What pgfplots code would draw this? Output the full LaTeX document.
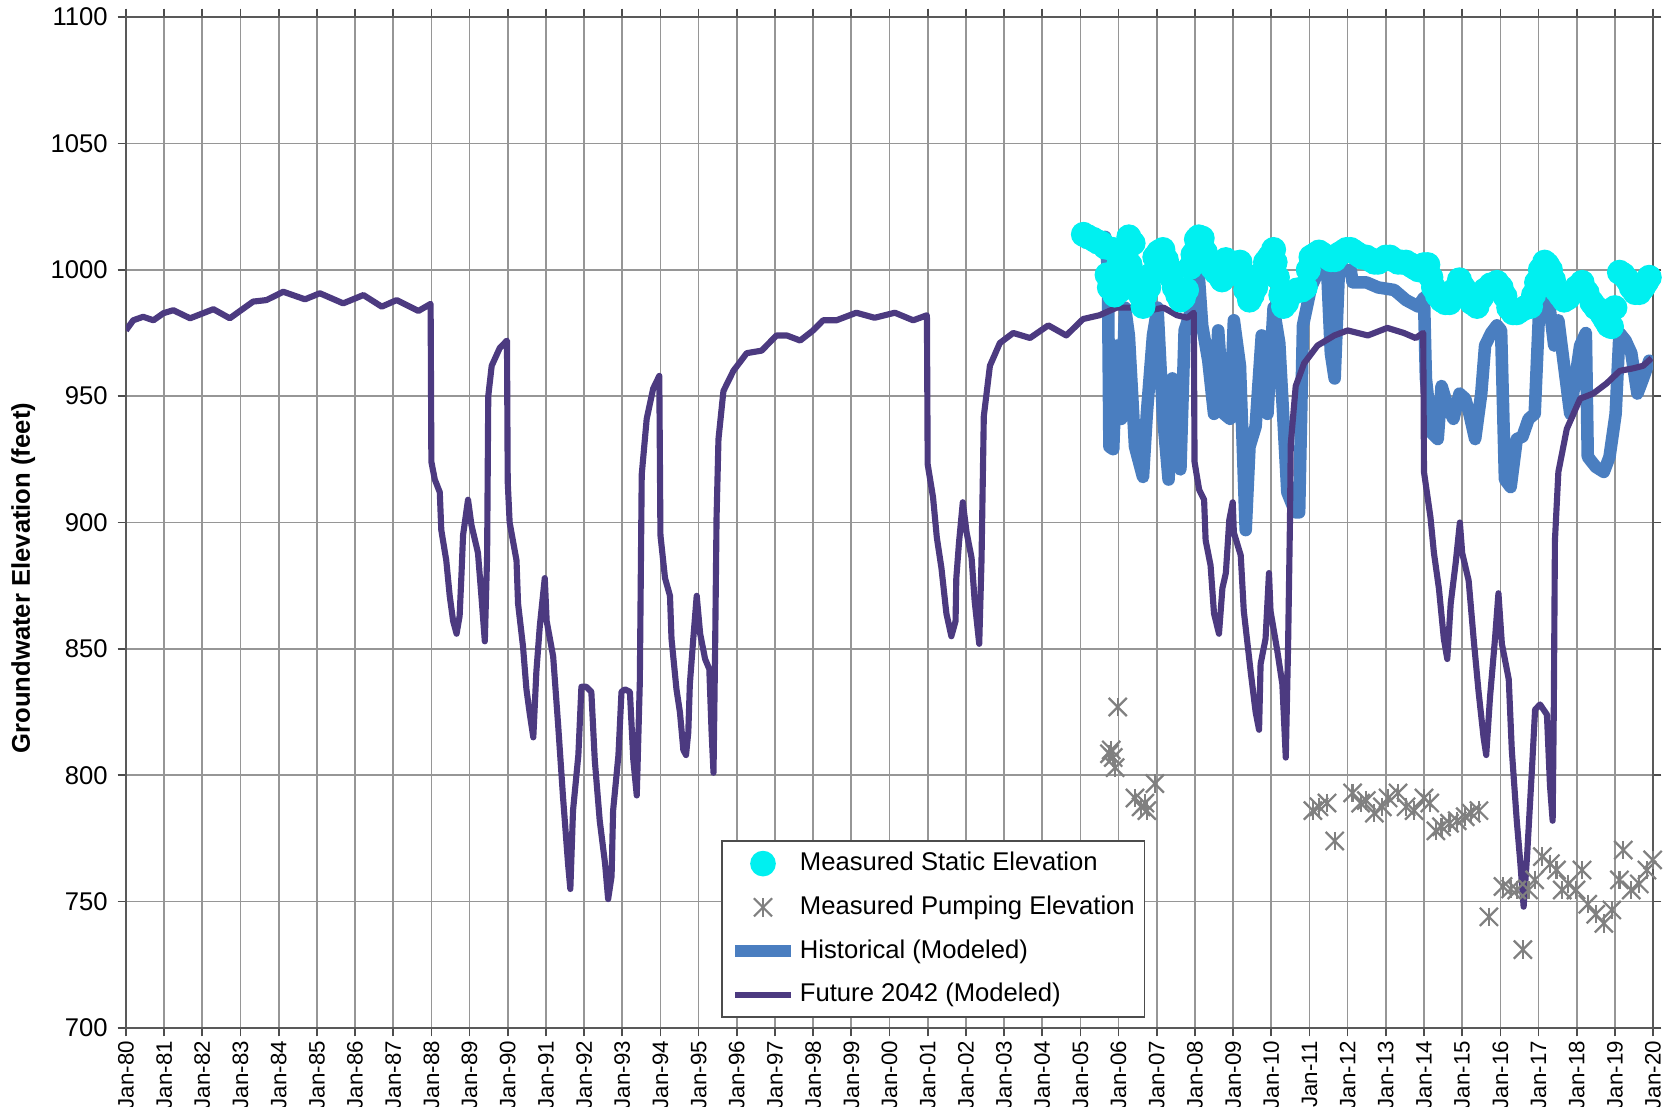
\documentclass[border=0pt]{standalone}
\usepackage{pgfplots}
\usepackage{pgfplotstable}
\pgfplotsset{compat=1.18}
\usepackage{fontspec}
\setmainfont{Liberation Sans}
\definecolor{futcol}{RGB}{76,58,128}
\definecolor{histcol}{RGB}{74,126,192}
\definecolor{statcol}{RGB}{0,240,240}
\definecolor{pumpcol}{RGB}{128,128,128}
\definecolor{gridcol}{RGB}{150,150,150}

\pgfplotsset{
  lineleg/.style={legend image code/.code={\draw[##1] (0pt,0pt) -- (20pt,0pt);}},
  dotleg/.style={legend image code/.code={\draw[##1, only marks] plot coordinates {(10pt,0pt)};}},
  starleg/.style={legend image code/.code={\draw[##1, only marks, mark=x, mark size=4.6pt] plot coordinates {(10pt,0pt)};\draw[##1, only marks, mark=|, mark size=3.3pt] plot coordinates {(10pt,0pt)};}},
}

\pgfplotstableread{
x y
2005.98 827
2005.76 808.5
2005.86 807
2005.91 803
2005.81 810
2006.43 791
2006.59 787.5
2006.74 786
2006.95 796.7
2006.69 789
2011.09 786
2011.25 787.5
2011.46 789
2011.66 774
2012.13 793
2012.34 789
2012.49 790
2012.70 785
2012.91 787.5
2013.06 791
2013.32 793
2013.53 787.5
2013.74 786
2014.00 791
2014.15 789
2014.31 778
2014.46 779.6
2014.67 781
2014.87 782
2015.08 783.6
2015.24 785
2015.44 786
2015.70 744
2016.07 756
2016.27 755
2016.43 754.6
2016.59 731
2016.74 754.6
2016.90 758.6
2017.10 767.8
2017.31 765
2017.47 762.5
2017.62 754.6
2017.78 757
2017.98 754.6
2018.14 762.5
2018.29 749
2018.50 745
2018.71 741.4
2018.92 746.7
2019.12 758.6
2019.22 770.4
2019.43 754.6
2019.64 757
2019.84 762.5
2019.99 766.5
}\pumpdata

\begin{document}
\begin{tikzpicture}
\begin{axis}[
  at={(0,0)}, anchor=south west,
  scale only axis, width=548pt, height=362.8pt,
  xmin=1980, xmax=2020, ymin=700, ymax=1100,
  xtick={1980,1981,...,2020},
  xticklabels={Jan-80,Jan-81,Jan-82,Jan-83,Jan-84,Jan-85,Jan-86,Jan-87,Jan-88,Jan-89,Jan-90,Jan-91,Jan-92,Jan-93,Jan-94,Jan-95,Jan-96,Jan-97,Jan-98,Jan-99,Jan-00,Jan-01,Jan-02,Jan-03,Jan-04,Jan-05,Jan-06,Jan-07,Jan-08,Jan-09,Jan-10,Jan-11,Jan-12,Jan-13,Jan-14,Jan-15,Jan-16,Jan-17,Jan-18,Jan-19,Jan-20},
  ytick={700,750,...,1100},
  grid=major, major grid style={gridcol, line width=0.6pt},
  tick align=outside, major tick length=3pt,
  tick style={black!70, line width=0.6pt},
  axis line style={black!65, line width=0.9pt},
  /pgf/number format/assume math mode=true,
  /pgf/number format/1000 sep={},
  x tick label style={rotate=90, anchor=east, inner sep=1.5pt, font=\fontsize{8}{10}\selectfont},
  y tick label style={font=\fontsize{9.2}{11}\selectfont},
  ylabel={Groundwater Elevation (feet)},
  ylabel style={font=\bfseries\fontsize{9.2}{11}\selectfont, at={(axis description cs:-0.0672,0.445)}, anchor=center},
  legend cell align=left,
  legend style={at={(0.3897,0.0099)}, anchor=south west, draw=black!70, line width=0.6pt,
    font=\fontsize{9.2}{11}\selectfont, inner sep=2.5pt, row sep=4.7pt,
    nodes={inner sep=1pt, text height=7pt, text depth=2pt}},
]
\addlegendimage{statcol, mark=*, mark size=4.3pt, mark options={draw=statcol, fill=statcol}, dotleg}
\addlegendentry{Measured Static Elevation}
\addlegendimage{pumpcol, line width=0.8pt, starleg}
\addlegendentry{Measured Pumping Elevation}
\addlegendimage{histcol, line width=4.5pt, lineleg}
\addlegendentry{Historical (Modeled)}
\addlegendimage{futcol, line width=2.2pt, lineleg}
\addlegendentry{Future 2042 (Modeled)}

% Historical (Modeled)
\addplot[histcol, line width=4.5pt, line join=round, line cap=round, forget plot] coordinates {
(2005.65,1013) (2005.72,1000) (2005.76,930) (2005.86,929) (2005.96,970) (2006.07,941)
(2006.17,985) (2006.27,974) (2006.43,930) (2006.64,918) (2006.74,943) (2006.90,974)
(2007.02,985) (2007.16,943) (2007.31,917) (2007.41,957) (2007.52,928) (2007.62,921)
(2007.73,976) (2007.88,983) (2008.05,1009) (2008.19,978) (2008.35,964) (2008.50,943)
(2008.61,976) (2008.76,943) (2008.92,941) (2009.02,980) (2009.18,962) (2009.33,897)
(2009.43,930) (2009.59,938) (2009.75,974) (2009.90,943) (2010.06,985) (2010.21,971)
(2010.42,912) (2010.63,904) (2010.73,904) (2010.83,978) (2011.04,993) (2011.25,1000)
(2011.46,1001) (2011.56,967) (2011.66,957) (2011.77,999) (2012.08,1000) (2012.13,995)
(2012.49,995) (2012.80,993) (2013.22,992) (2013.53,988) (2013.84,985.5) (2014.00,989)
(2014.05,957) (2014.20,935.5) (2014.36,933) (2014.46,954) (2014.62,946) (2014.77,941)
(2014.93,951) (2015.08,949) (2015.19,943) (2015.34,933) (2015.50,951) (2015.60,970)
(2015.76,975) (2015.91,978) (2016.02,976) (2016.12,917) (2016.27,914) (2016.43,933)
(2016.58,934) (2016.74,941) (2016.90,943) (2017.05,996) (2017.26,989) (2017.41,970)
(2017.52,980) (2017.67,962) (2017.83,943) (2018.09,970) (2018.24,975) (2018.29,926)
(2018.50,922) (2018.71,920) (2018.86,926) (2019.02,943) (2019.12,975) (2019.28,972)
(2019.43,967) (2019.59,951) (2019.74,957) (2019.90,964)
};

% Future 2042 (Modeled)
\addplot[futcol, line width=2.2pt, line join=round, forget plot] coordinates {
(1980.00,976) (1980.19,980) (1980.45,981.4) (1980.72,980) (1980.98,982.8) (1981.24,984)
(1981.68,980.8) (1982.29,984.4) (1982.72,980.8) (1983.33,987.4) (1983.68,988) (1984.12,991.3)
(1984.69,988.3) (1985.08,990.7) (1985.69,986.7) (1986.22,990) (1986.70,985.4) (1987.09,988)
(1987.66,983.7) (1987.98,986.5) (1988.00,924) (1988.09,917) (1988.22,912) (1988.26,897)
(1988.39,885) (1988.48,871) (1988.57,861) (1988.66,856) (1988.74,863) (1988.79,880)
(1988.83,895) (1988.96,909) (1989.05,899) (1989.22,888) (1989.31,871) (1989.40,853)
(1989.46,887) (1989.49,950) (1989.58,962) (1989.79,969) (1989.98,972) (1990.00,916)
(1990.05,900) (1990.23,885) (1990.27,868) (1990.40,851) (1990.49,834) (1990.58,824)
(1990.67,815) (1990.75,841) (1990.84,859) (1990.97,878) (1991.02,861) (1991.19,847)
(1991.32,820) (1991.45,791) (1991.58,765) (1991.64,755) (1991.71,786) (1991.85,808)
(1991.93,835) (1992.06,835) (1992.19,833) (1992.28,806) (1992.41,782) (1992.55,765)
(1992.63,751) (1992.72,760) (1992.76,786) (1992.90,808) (1992.98,833) (1993.07,834)
(1993.20,833) (1993.29,806) (1993.38,792) (1993.46,837) (1993.51,919) (1993.64,941)
(1993.81,953) (1993.97,958) (1994.00,895) (1994.12,878) (1994.25,871) (1994.29,854)
(1994.42,834) (1994.51,825) (1994.60,810) (1994.67,808) (1994.73,817) (1994.77,836)
(1994.86,854) (1994.95,871) (1995.04,856) (1995.17,846) (1995.28,842) (1995.34,817)
(1995.39,801) (1995.43,847) (1995.47,902) (1995.52,933) (1995.65,952) (1995.91,960)
(1996.26,967) (1996.65,968) (1997.04,974) (1997.31,974) (1997.66,972) (1998.00,976)
(1998.26,980) (1998.61,980) (1999.13,983) (1999.61,981) (2000.14,983) (2000.62,980)
(2000.98,982) (2001.00,923) (2001.14,910) (2001.24,894) (2001.36,882) (2001.49,864)
(2001.62,855) (2001.73,861) (2001.75,878) (2001.82,892) (2001.92,908) (2002.02,896)
(2002.15,886) (2002.23,869) (2002.35,852) (2002.41,885) (2002.47,942) (2002.63,962)
(2002.89,971) (2003.24,975) (2003.68,973) (2004.16,978) (2004.63,974) (2005.07,980.5)
(2005.50,982) (2005.95,985) (2006.39,985) (2006.83,984) (2007.18,985) (2007.53,982)
(2007.80,981) (2007.97,983) (2007.99,924) (2008.11,913) (2008.24,909) (2008.28,893)
(2008.41,883) (2008.50,864) (2008.63,856) (2008.72,874) (2008.81,880) (2008.90,901)
(2008.99,908) (2009.02,896) (2009.20,887) (2009.28,865) (2009.46,841) (2009.59,825)
(2009.68,818) (2009.72,844) (2009.85,854) (2009.94,880) (2009.98,865) (2010.16,849)
(2010.29,836) (2010.38,807) (2010.44,851) (2010.49,901) (2010.51,931) (2010.64,954)
(2010.86,963) (2011.21,970) (2011.65,974) (2012.00,976) (2012.53,974) (2013.04,977)
(2013.47,975) (2013.78,973) (2013.98,975) (2014.00,920) (2014.17,902) (2014.26,888)
(2014.39,874) (2014.52,854) (2014.61,846) (2014.70,868) (2014.83,884) (2014.94,900)
(2015.00,888) (2015.17,877) (2015.30,854) (2015.43,833) (2015.56,815) (2015.63,808)
(2015.73,831) (2015.86,854) (2015.95,872) (2016.04,852) (2016.22,838) (2016.30,810)
(2016.43,782) (2016.52,766) (2016.61,748) (2016.70,768) (2016.83,803) (2016.91,826)
(2017.04,828) (2017.22,824) (2017.30,796) (2017.37,782) (2017.40,826) (2017.43,893)
(2017.52,920) (2017.74,937) (2018.09,949) (2018.43,951) (2018.78,955) (2019.13,960)
(2019.48,961) (2019.74,962) (2019.96,965)
};

% Measured Pumping Elevation
\addplot[only marks, mark=x, mark size=4.6pt, pumpcol, line width=0.8pt, forget plot] table[x=x,y=y] {\pumpdata};
\addplot[only marks, mark=|, mark size=3.3pt, pumpcol, line width=0.8pt, forget plot] table[x=x,y=y] {\pumpdata};

% Measured Static Elevation
\addplot[only marks, mark=*, mark size=4.3pt, statcol, mark options={draw=statcol, fill=statcol}, forget plot] coordinates {
(2005.08,1014) (2005.34,1012) (2005.55,1010.5) (2005.86,1008) (2006.02,1003) (2006.12,1005)
(2006.27,1013) (2006.38,1010.5) (2005.76,993) (2005.96,996) (2006.22,1000) (2006.43,995)
(2006.59,989.5) (2006.64,985.5) (2006.79,993) (2006.95,1005) (2007.16,1008) (2007.31,1001)
(2007.46,993) (2007.62,988) (2007.78,992) (2007.88,1001) (2008.04,1012) (2008.19,1012.5)
(2008.35,1003) (2008.55,999) (2008.71,996) (2008.81,1004) (2009.02,1001) (2009.18,1003)
(2009.33,992) (2009.43,988) (2009.59,993) (2009.85,1003) (2010.06,1008) (2010.16,997)
(2010.32,985.5) (2010.47,990) (2010.68,992) (2010.89,993) (2011.04,1005) (2011.25,1007)
(2011.46,1005) (2011.66,1004) (2011.87,1007) (2012.08,1008) (2012.28,1006) (2012.49,1005)
(2012.70,1003) (2012.91,1004) (2013.11,1005) (2013.32,1003) (2013.53,1003) (2013.74,1001)
(2014.10,1002) (2014.25,993) (2014.46,988) (2014.67,987) (2014.93,996) (2015.13,989.5)
(2015.39,985.5) (2015.60,992) (2015.91,995) (2016.12,989.5) (2016.33,983) (2016.53,984)
(2016.79,985.5) (2016.95,995) (2017.16,1003) (2017.31,1000) (2017.47,992) (2017.67,988)
(2017.88,991) (2018.14,995) (2018.40,987) (2018.60,984) (2018.76,980) (2018.91,977.5)
(2019.12,999) (2019.33,996) (2019.53,991) (2019.74,993) (2019.90,997)
(2005.20,1013) (2005.45,1011) (2005.65,1009) (2005.70,998) (2005.90,990) (2006.05,992)
(2006.30,1002) (2006.50,997) (2006.70,990) (2006.85,998) (2007.05,1007) (2007.25,1004)
(2007.38,997) (2007.55,990) (2007.70,989) (2007.95,1006) (2008.10,1013) (2008.27,1007)
(2008.45,1001) (2008.63,998) (2008.90,1002) (2009.10,1002) (2009.25,997) (2009.50,990)
(2009.70,998) (2009.95,1005) (2010.10,1003) (2010.25,990) (2010.40,987) (2010.58,991)
(2010.80,992) (2010.97,1000) (2011.15,1006) (2011.35,1006) (2011.56,1004) (2011.76,1006)
(2011.97,1008) (2012.18,1007) (2012.38,1005) (2012.60,1004) (2012.80,1003) (2013.00,1005)
(2013.20,1004) (2013.42,1003) (2013.64,1002) (2013.85,1000) (2014.00,1002) (2014.18,997)
(2014.35,990) (2014.56,987) (2014.80,992) (2015.03,993) (2015.25,987) (2015.50,989)
(2015.75,994) (2016.02,993) (2016.22,985) (2016.43,983) (2016.65,985) (2016.87,990)
(2017.05,1000) (2017.23,1002) (2017.39,996) (2017.57,990) (2017.78,989) (2018.00,993)
(2018.27,991) (2018.50,985) (2018.68,982) (2018.84,978) (2019.00,985) (2019.22,998)
(2019.43,993) (2019.64,991) (2019.82,995)
};
\end{axis}
\pgfresetboundingbox
\path[use as bounding box] (-45.2pt,-28.3pt) rectangle (554.8pt,368.9pt);
\end{tikzpicture}
\end{document}
